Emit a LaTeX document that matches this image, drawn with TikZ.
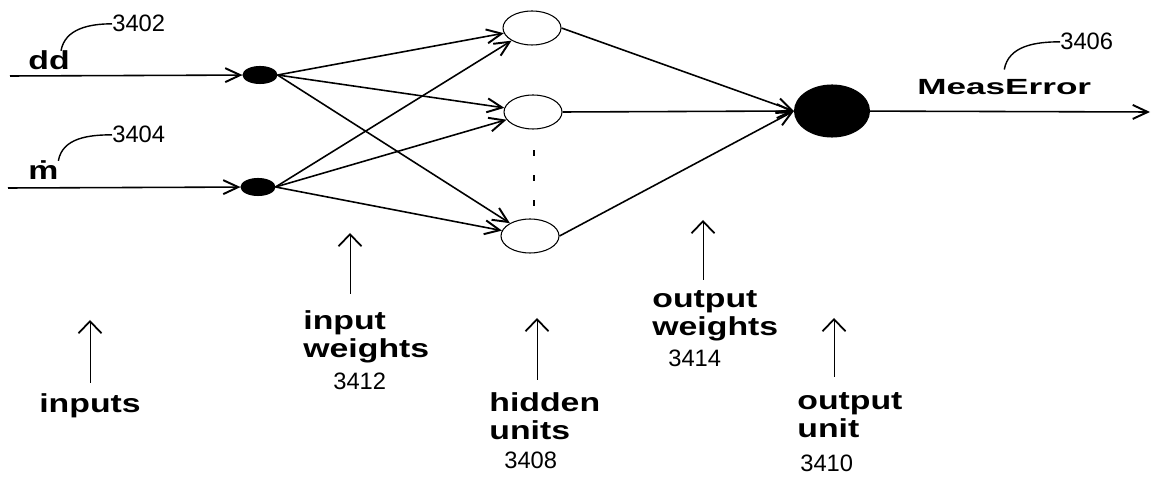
\documentclass[tikz,border=0pt]{standalone}
\usepackage{fontspec}
\setmainfont{Liberation Sans}
\newfontfamily\lblfont{Liberation Sans}[FakeStretch=1.3]
\newfontfamily\errfont{Liberation Sans}[FakeStretch=1.6]
\usetikzlibrary{arrows.meta,shapes.geometric}
\begin{document}
\begin{tikzpicture}
[x=0.02cm,y=-0.02cm,
 unit/.style={ellipse,draw=black,line width=.6pt,inner sep=0pt},
 inunit/.style={unit,fill=black,minimum width=6.8mm,minimum height=3.4mm},
 hidunit/.style={unit,fill=white,minimum width=11.6mm,minimum height=6.8mm},
 outunit/.style={unit,fill=black,minimum width=15mm,minimum height=10.4mm},
 lbl/.style={inner sep=0pt,anchor=north west,align=left,font=\lblfont\bfseries\fontsize{14.8}{15.9}\selectfont},
 num/.style={inner sep=0pt,anchor=base west,font=\fontsize{13.5}{15}\selectfont},
 wire/.style={line width=.9pt,-{Straight Barb[length=3mm,width=2.8mm,line width=1.1pt]}},
 ptr/.style={line width=.55pt,-{Straight Barb[length=2.4mm,width=4.6mm,line width=1pt]}},
 lead/.style={line width=.8pt}]
\useasboundingbox (0,0) rectangle (1153,479);
\node[inunit] (x1) at (260,75) {};
\node[inunit] (x2) at (258,187) {};
\node[hidunit] (h1) at (532,28) {};
\node[hidunit] (h2) at (533,112) {};
\node[hidunit] (h3) at (530,236) {};
\node[outunit] (y) at (832,111) {};
\coordinate (in1) at (10,76);
\coordinate (in2) at (8,188);
\coordinate (yout) at (1150,112);
\draw[wire] (in1) -- (x1);
\draw[wire] (in2) -- (x2);
\foreach \i in {1,2}
  \foreach \j in {1,2,3}
    \draw[wire] (x\i.east) -- (h\j);
\foreach \j in {1,2,3}
  \draw[wire] (h\j.east) -- (y.west);
\draw[wire] (y) -- (yout);
\foreach \yy in {153,178,203}
  \fill (533,\yy-3) rectangle ++(2,6);
% signal names
\node[lbl,anchor=base west] (dd) at (28,70) {dd};
\node[lbl,anchor=base west] (mdot) at (28,180) {\.{m}};
\node[inner sep=0pt,anchor=base west,font=\errfont\bfseries\fontsize{12.5}{14}\selectfont] (err) at (917,95) {MeasError};
\node[num] (n3402) at (112,32) {3402};
\node[num] (n3404) at (112,143) {3404};
\node[num] (n3406) at (1060,50) {3406};
\draw[lead] ([xshift=2.4mm]dd.north) to[out=80,in=180] (n3402.west);
\draw[lead] ([xshift=3mm]mdot.north) to[out=80,in=180] (n3404.west);
\draw[lead] ([yshift=2mm]err.north) to[out=80,in=180] (n3406.west);
% layer labels
\node[lbl] (inputs) at (39,393) {inputs};
\node[lbl] (inw) at (303,310) {input\\weights};
\node[lbl] (hid) at (489,392) {hidden\\units};
\node[lbl] (outw) at (652,290) {output\\weights};
\node[lbl] (outu) at (797,392) {output\\unit};
\node[num] (n3412) at (333,390) {3412};
\node[num] (n3408) at (504,468) {3408};
\node[num] (n3414) at (668,367) {3414};
\node[num] (n3410) at (800,472) {3410};
\coordinate (p1a) at (90,383);  \coordinate (p1b) at (90,320);
\coordinate (p2a) at (350,294); \coordinate (p2b) at (350,233);
\coordinate (p3a) at (537,380); \coordinate (p3b) at (537,318);
\coordinate (p4a) at (703,280); \coordinate (p4b) at (703,220);
\coordinate (p5a) at (834,377); \coordinate (p5b) at (834,318);
\foreach \k in {1,...,5}
  \draw[ptr] (p\k a) -- (p\k b);
\end{tikzpicture}
\end{document}
